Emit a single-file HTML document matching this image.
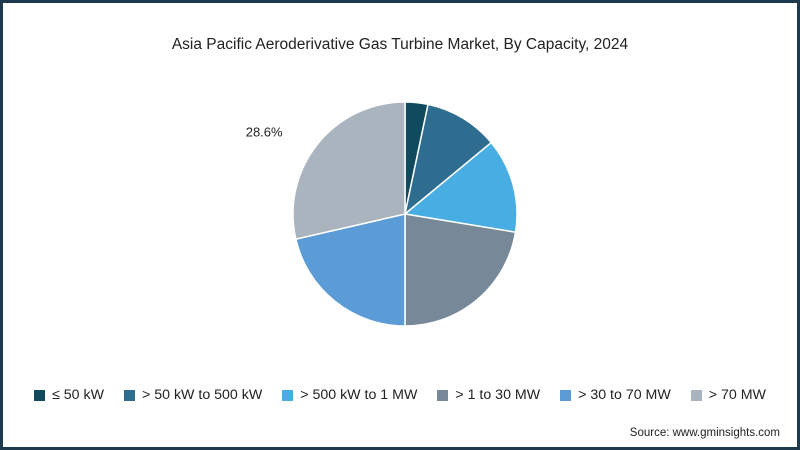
<!DOCTYPE html>
<html><head><meta charset="utf-8"><style>
html,body{margin:0;padding:0;background:#fff}
#wrap{position:relative;width:800px;height:450px;box-sizing:border-box;border:3px solid #1e3a4c;font-family:"Liberation Sans",sans-serif;color:#222;overflow:hidden}
#title{position:absolute;top:33px;left:0;width:794px;text-align:center;font-size:15.5px}
#legend{position:absolute;top:384px;left:0;width:794px;display:flex;justify-content:center;gap:20px;font-size:14.2px}
.li{display:flex;align-items:center;gap:7px}
.sw{width:11px;height:11px;display:inline-block}
#src{position:absolute;top:424px;right:17px;font-size:11.5px}
svg{position:absolute;left:0;top:0}
</style></head><body>
<div id="wrap">
<div id="title">Asia Pacific Aeroderivative Gas Turbine Market, By Capacity, 2024</div>
<svg id="pie" width="794" height="444"></svg>
<div id="legend"></div>
<div id="src">Source: www.gminsights.com</div>
</div>
<script>
const categories=["≤ 50 kW","> 50 kW to 500 kW","> 500 kW to 1 MW","> 1 to 30 MW","> 30 to 70 MW","> 70 MW"];
const values=[3.3,10.7,13.6,22.4,21.4,28.6];
const labels=["","","","","","28.6%"];
const colors=["#0f4a5e","#2e6d8f","#47ade2","#778899","#5b9bd6","#a9b4be"];
const cx=402,cy=211,r=112;
const svg=document.getElementById('pie');
const NS="http://www.w3.org/2000/svg";
const total=values.reduce((a,b)=>a+b,0);
let a0=0;
values.forEach((v,i)=>{
  const a1=a0+v/total*2*Math.PI;
  const x0=cx+r*Math.sin(a0),y0=cy-r*Math.cos(a0),x1=cx+r*Math.sin(a1),y1=cy-r*Math.cos(a1);
  const p=document.createElementNS(NS,'path');
  p.setAttribute('d',`M${cx},${cy}L${x0},${y0}A${r},${r} 0 ${a1-a0>Math.PI?1:0} 1 ${x1},${y1}Z`);
  p.setAttribute('fill',colors[i]);p.setAttribute('stroke','#fff');p.setAttribute('stroke-width','1.5');
  
  
  svg.appendChild(p);
  if(labels[i]){
    const am=(a0+a1)/2;
    const t=document.createElementNS(NS,'text');
    t.setAttribute('x',cx+(r+24)*Math.sin(am)-16);t.setAttribute('y',cy-(r+24)*Math.cos(am)+7);
    t.setAttribute('text-anchor','end');t.setAttribute('font-size','13');t.setAttribute('fill','#222');
    t.setAttribute('font-family','Liberation Sans, sans-serif');
    t.textContent=labels[i];
    
    
    svg.appendChild(t);
  }
  a0=a1;
});
const lg=document.getElementById('legend');
categories.forEach((c,i)=>{
  const d=document.createElement('div');d.className='li';
  
  
  d.innerHTML=`<span class="sw" style="background:${colors[i]}"></span><span>${c}</span>`;
  lg.appendChild(d);
});
</script>
</body></html>
